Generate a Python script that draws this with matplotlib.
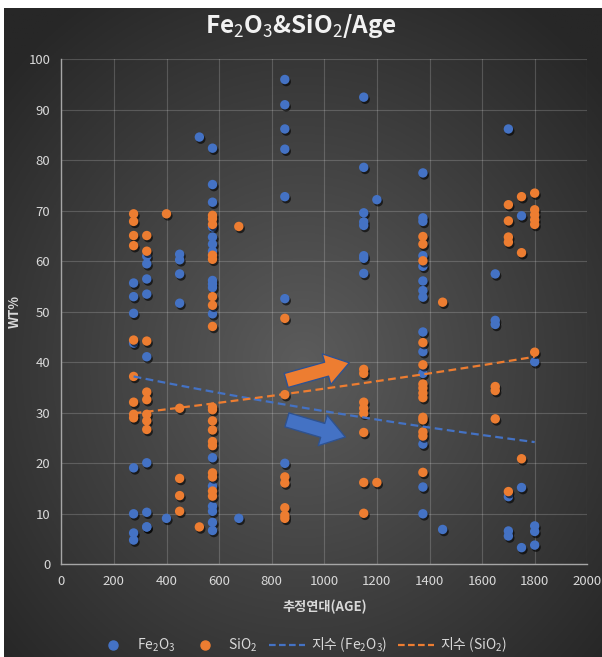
import numpy as np
import matplotlib
matplotlib.use("Agg")
import matplotlib.pyplot as plt
import matplotlib.patheffects as pe
from matplotlib.lines import Line2D

plt.rcParams['font.family'] = ['Noto Sans CJK KR', 'DejaVu Sans']
plt.rcParams['mathtext.fontset'] = 'custom'
plt.rcParams['mathtext.rm'] = 'Noto Sans CJK KR'
plt.rcParams['mathtext.it'] = 'Noto Sans CJK KR'
plt.rcParams['mathtext.bf'] = 'Noto Sans CJK KR:bold'

# Fe2O3 samples (age, wt%)
fe_age = [275] * 8 + [325] * 9 + [400] + [450] * 4 + [525] + [575] * 17 + [675] \
    + [850] * 7 + [1150] * 8 + [1200] + [1375] * 14 + [1450] + [1650] * 3 \
    + [1700] * 4 + [1750] * 3 + [1800] * 4
fe_wt = [55.7, 53.0, 49.7, 43.8, 19.1, 10.0, 6.2, 4.8,
         61.0, 59.5, 56.5, 53.5, 41.1, 20.1, 10.3, 7.4, 7.4,
         9.1,
         61.4, 60.3, 57.5, 51.7,
         84.6,
         82.4, 75.2, 71.7, 66.8, 64.8, 63.4, 62.0, 56.2, 55.5, 54.8, 49.6,
         21.1, 15.5, 11.5, 10.5, 8.3, 6.7,
         9.1,
         96.0, 91.0, 86.2, 82.2, 72.8, 52.6, 20.0,
         92.5, 78.6, 69.6, 67.8, 67.1, 61.1, 60.6, 57.6,
         72.2,
         77.5, 68.6, 67.9, 61.1, 59.0, 56.1, 54.2, 52.9, 46.0, 42.1, 37.8,
         23.8, 15.3, 10.0,
         6.9,
         57.5, 48.3, 47.5,
         86.2, 13.4, 6.6, 5.6,
         69.0, 15.2, 3.3,
         40.1, 7.6, 6.5, 3.8]

# SiO2 samples (age, wt%)
si_age = [275] * 9 + [325] * 8 + [400] + [450] * 4 + [525] + [575] * 18 + [675] \
    + [850] * 7 + [1150] * 8 + [1200] + [1375] * 14 + [1450] + [1650] * 3 \
    + [1700] * 5 + [1750] * 3 + [1800] * 6
si_wt = [69.4, 67.9, 65.1, 63.1, 44.4, 37.2, 32.1, 29.7, 29.0,
         65.1, 62.0, 44.2, 34.1, 32.6, 29.7, 28.4, 26.7,
         69.4,
         30.9, 17.0, 13.6, 10.5,
         7.4,
         69.1, 68.4, 67.3, 61.2, 60.4, 53.0, 51.3, 47.1, 31.1, 30.6, 28.4,
         26.6, 24.3, 23.5, 18.1, 17.3, 14.5, 13.5,
         66.9,
         48.7, 33.6, 17.3, 16.1, 11.2, 9.7, 9.1,
         38.6, 37.8, 32.1, 30.9, 29.9, 26.1, 16.2, 10.1,
         16.2,
         64.9, 63.4, 60.1, 43.9, 39.5, 35.7, 34.9, 33.9, 33.0, 29.1, 28.6,
         26.2, 25.4, 18.2,
         51.9,
         35.2, 34.4, 28.8,
         71.2, 68.0, 64.8, 63.8, 14.4,
         72.8, 61.7, 20.9,
         73.5, 70.2, 69.2, 68.2, 67.3, 42.0]

# exponential trendlines: value at first and last age
trend_age = [275, 1800]
fe_trend = [37.2, 24.2]
si_trend = [29.9, 41.1]

BLUE = '#4472C4'
ORANGE = '#ED7D31'
TXT = '#d9d9d9'

fe_age, fe_wt = np.array(fe_age[:len(fe_wt)]), np.array(fe_wt)
si_age, si_wt = np.array(si_age[:len(si_wt)]), np.array(si_wt)


def exp_curve(xe, ye):
    # y = a * exp(b x) through the two end values
    b = np.log(ye[1] / ye[0]) / (xe[1] - xe[0])
    xs = np.linspace(xe[0], xe[1], 50)
    return xs, ye[0] * np.exp(b * (xs - xe[0]))


fig = plt.figure(figsize=(6.02, 6.57), dpi=100, facecolor='white')

# dark radial background
bg = fig.add_axes([4 / 602, 0, 1 - 4 / 602, 1 - 8 / 657])
gx, gy = np.meshgrid(np.linspace(-1, 1, 300), np.linspace(-1, 1, 300))
r = np.clip(np.sqrt(gx ** 2 + (gy + 0.1) ** 2) / 1.35, 0, 1)
c0, c1 = np.array([0x5c, 0x5c, 0x5c]) / 255, np.array([0x27, 0x27, 0x27]) / 255
img = c0[None, None, :] * (1 - r[..., None]) + c1[None, None, :] * r[..., None]
bg.imshow(img, extent=(0, 1, 0, 1), aspect='auto', origin='lower')
bg.axis('off')

ax = fig.add_axes([61.3 / 602, 1 - 564.3 / 657, (587.3 - 61.3) / 602, (564.3 - 59.3) / 657])
ax.patch.set_alpha(0)
ax.set_xlim(0, 2000)
ax.set_ylim(0, 100)
ax.set_xticks(np.arange(0, 2001, 200))
ax.set_yticks(np.arange(0, 101, 10))
ax.grid(True, color='white', alpha=0.18, lw=0.8)
ax.set_axisbelow(True)
for s in ['top', 'right']:
    ax.spines[s].set_visible(False)
for s in ['left', 'bottom']:
    ax.spines[s].set_color('#a6a6a6')
    ax.spines[s].set_linewidth(1.0)
ax.tick_params(length=0, colors=TXT, labelsize=9.5, pad=8)

shadow = [pe.SimplePatchShadow(offset=(1, -1.5), alpha=0.6, shadow_rgbFace='black'), pe.Normal()]
ax.scatter(fe_age, fe_wt, s=46, color=BLUE, zorder=3, path_effects=shadow, linewidths=0)
ax.scatter(si_age, si_wt, s=46, color=ORANGE, zorder=3, path_effects=shadow, linewidths=0)

xs, ys = exp_curve(trend_age, fe_trend)
ax.plot(xs, ys, color=BLUE, ls=(0, (3.5, 2)), lw=1.6, zorder=4)
xs, ys = exp_curve(trend_age, si_trend)
ax.plot(xs, ys, color=ORANGE, ls=(0, (3.5, 2)), lw=1.6, zorder=4)

# direction arrows
arrow_kw = dict(arrowstyle='simple,head_width=2.3,head_length=1.7,tail_width=1.05',
                mutation_scale=10, ec='#2F528F', lw=1.0, shrinkA=0, shrinkB=0)
ax.annotate('', xy=(1095, 39.9), xytext=(855, 36.4),
            arrowprops=dict(fc=ORANGE, **arrow_kw), zorder=5)
ax.annotate('', xy=(1080, 25.2), xytext=(858, 28.6),
            arrowprops=dict(fc=BLUE, **arrow_kw), zorder=5)

fig.text(0.5, 1 - 26 / 657, 'Fe$_2$O$_3$&SiO$_2$/Age', ha='center', va='center',
         fontsize=17.5, fontweight='bold', color='#f2f2f2')
ax.set_xlabel('추정연대(AGE)', color=TXT, fontsize=9.5, fontweight='bold', labelpad=8)
ax.set_ylabel('WT%', color=TXT, fontsize=9.5, fontweight='bold')
ax.yaxis.set_label_coords((22 - 61.3) / 526, 0.5)

handles = [
    Line2D([], [], marker='o', ls='none', color=BLUE, markersize=6.5),
    Line2D([], [], marker='o', ls='none', color=ORANGE, markersize=6.5),
    Line2D([], [], color=BLUE, ls=(0, (3, 1.5)), lw=1.6),
    Line2D([], [], color=ORANGE, ls=(0, (3, 1.5)), lw=1.6),
]
labels = ['Fe$_2$O$_3$', 'SiO$_2$', '지수 (Fe$_2$O$_3$)', '지수 (SiO$_2$)']
leg = fig.legend(handles, labels, loc='center', bbox_to_anchor=(0.5, 1 - 645 / 657),
                 ncol=4, frameon=False, fontsize=10, labelcolor=TXT,
                 handlelength=2.6, columnspacing=0.8, handletextpad=0.4)

fig.savefig('out.png', dpi=100, facecolor='white')
